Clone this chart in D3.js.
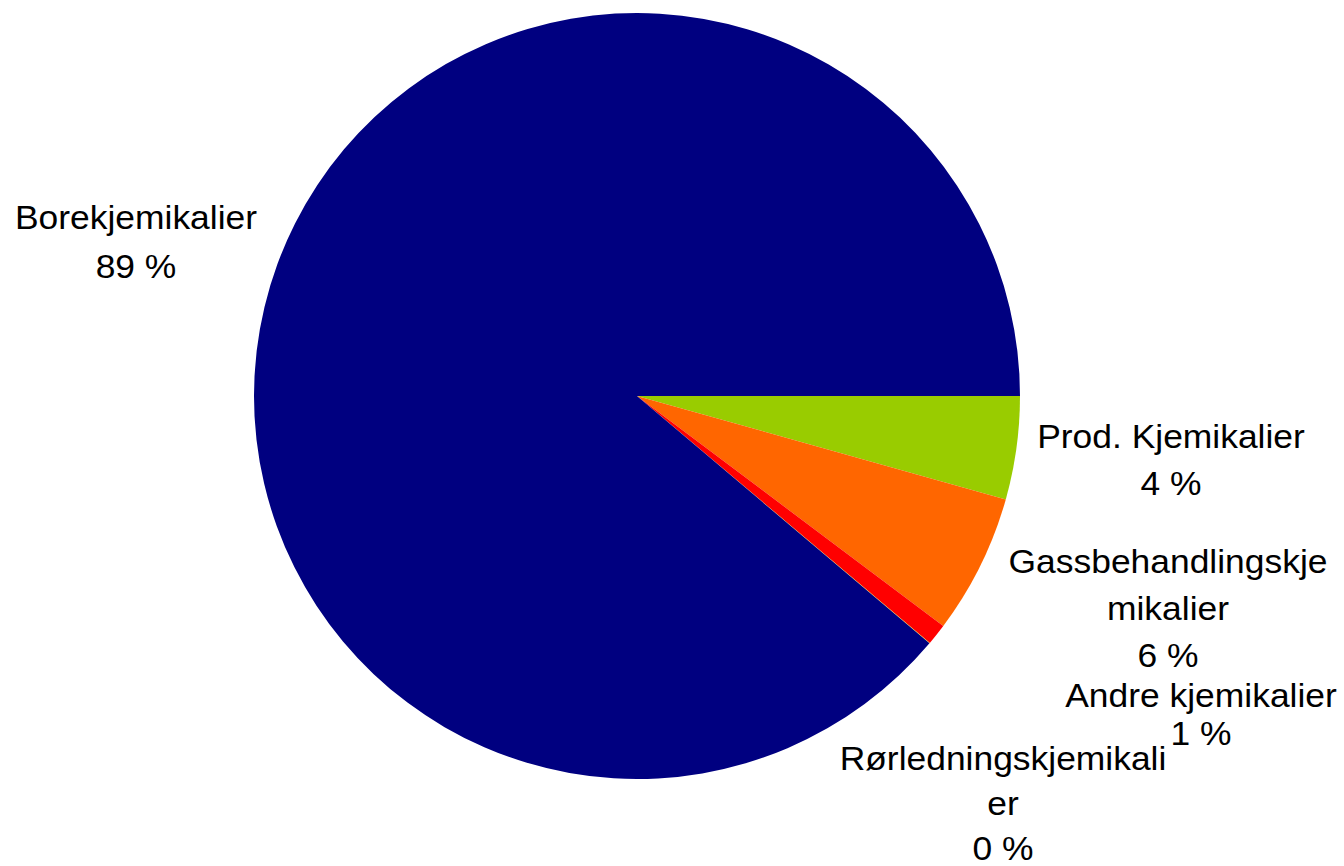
<!DOCTYPE html>
<html>
<head>
<meta charset="utf-8">
<script src="https://cdn.jsdelivr.net/npm/d3@7.9.0/dist/d3.min.js"></script>
<style>
  html, body { margin: 0; padding: 0; background: #fff; }
  svg text { font-family: "Liberation Sans", Arial, sans-serif; fill: #000; }
</style>
</head>
<body>
<svg id="chart" width="1344" height="866"></svg>
<script>
// Data (shares in percent, clockwise from 3 o'clock)
const categories = ['Prod. Kjemikalier', 'Gassbehandlingskjemikalier', 'Andre kjemikalier', 'Rørledningskjemikalier', 'Borekjemikalier'];
const shares = [4.35, 5.9, 0.9, 0.02, 88.83];
const sliceColors = ['#99CC00', '#FF6600', '#FF0000', '#FFFF00', '#000080'];

// Label text lines as wrapped in the original (name part only)
const labelLines = [
  ['Prod. Kjemikalier'],
  ['Gassbehandlingskje', 'mikalier'],
  ['Andre kjemikalier'],
  ['Rørledningskjemikali', 'er'],
  ['Borekjemikalier']
];

// Label placement (centre x, first baseline y, line step)
const labelLayout = [
  { x: 1171, y: 448, step: 47 },
  { x: 1168, y: 573, step: 47 },
  { x: 1201, y: 707, step: 38 },
  { x: 1003, y: 770, step: 45 },
  { x: 136, y: 229, step: 49 }
];

const svg = d3.select('#chart');
const cx = 637, cy = 396, radius = 383;

const pie = d3.pie()
  .sort(null)
  .value(d => d)
  .startAngle(Math.PI / 2)
  .endAngle(Math.PI / 2 + 2 * Math.PI);

const arc = d3.arc().innerRadius(0).outerRadius(radius);

const g = svg.append('g').attr('transform', `translate(${cx},${cy})`);

g.selectAll('path')
  .data(pie(shares))
  .join('path')
  .attr('d', arc)
  .attr('fill', (d, i) => sliceColors[i]);

const pct = v => `${Math.round(v)} %`;

const labels = svg.selectAll('g.label')
  .data(categories)
  .join('g')
  .attr('class', 'label')
  .attr('transform', (d, i) => `translate(${labelLayout[i].x},${labelLayout[i].y}) scale(1.09,1)`);

labels.each(function(d, i) {
  const lines = labelLines[i].concat([pct(shares[i])]);
  d3.select(this).selectAll('text')
    .data(lines)
    .join('text')
    .attr('x', 0)
    .attr('y', (t, j) => j * labelLayout[i].step)
    .attr('text-anchor', 'middle')
    .attr('font-size', 32.5)
    .text(t => t);
});
</script>
</body>
</html>
